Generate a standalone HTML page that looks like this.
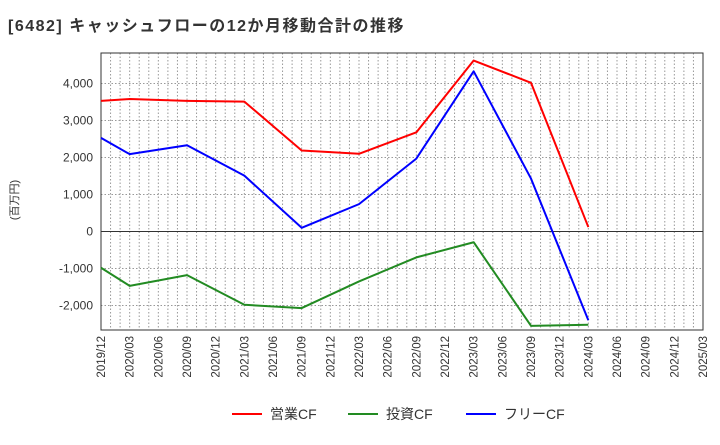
<!DOCTYPE html>
<html><head><meta charset="utf-8">
<style>
body{margin:0;background:#fff;}
svg text{font-family:"Liberation Sans","Noto Sans CJK JP",sans-serif;}
</style></head>
<body>
<svg id="chart" width="720" height="440" xmlns="http://www.w3.org/2000/svg">
<text x="8" y="31" font-size="16" font-weight="bold" fill="#333" letter-spacing="1.5">[6482]  キャッシュフローの12か月移動合計の推移</text>
<text x="18" y="200" font-size="11" fill="#333" text-anchor="middle" transform="rotate(-90 18 200)">(百万円)</text>
<g id="grid"></g>
<g id="axes"></g>
<g id="series"></g>
<g id="legend">
<line x1="232" y1="414" x2="262" y2="414" stroke="#f00" stroke-width="2"/>
<text x="270" y="419" font-size="14" fill="#333">営業CF</text>
<line x1="348" y1="414" x2="378" y2="414" stroke="#228b22" stroke-width="2"/>
<text x="386" y="419" font-size="14" fill="#333">投資CF</text>
<line x1="466" y1="414" x2="496" y2="414" stroke="#00f" stroke-width="2"/>
<text x="504" y="419" font-size="14" fill="#333">フリーCF</text>
</g>
</svg>
<script>
const categories=["2019/12","2020/03","2020/06","2020/09","2020/12","2021/03","2021/06","2021/09","2021/12","2022/03","2022/06","2022/09","2022/12","2023/03","2023/06","2023/09","2023/12","2024/03","2024/06","2024/09","2024/12","2025/03"];
const dataIdx=[0,1,3,5,7,9,11,13,15,17];
const operatingCF=[3530,3580,3530,3510,2190,2100,2680,4620,4020,120];
const investingCF=[-980,-1470,-1180,-1980,-2070,-1350,-700,-290,-2550,-2520];
const freeCF=[2530,2090,2330,1510,100,740,1970,4330,1430,-2400];
const yTicks=[-2000,-1000,0,1000,2000,3000,4000];
const yTickLabels=["-2,000","-1,000","0","1,000","2,000","3,000","4,000"];

const L=101,R=703,T=53,B=330;
const x=i=>L+(R-L)*i/(categories.length-1);
const y=v=>231.5-v*0.037;
const NS="http://www.w3.org/2000/svg";
function mk(p,tag,a){const e=document.createElementNS(NS,tag);for(const k in a)e.setAttribute(k,a[k]);p.appendChild(e);return e;}
const grid=document.getElementById('grid'),axes=document.getElementById('axes'),ser=document.getElementById('series');
for(let m=1;m<(categories.length-1)*3;m++){
  const xx=L+(R-L)*m/((categories.length-1)*3);
  const g=mk(grid,'line',{x1:xx,y1:T,x2:xx,y2:B,stroke:'#999','stroke-dasharray':'1.5,2','stroke-width':1});
  
  
}
yTicks.forEach((v,i)=>{
  const yy=y(v);
  const g=mk(grid,'line',{x1:L,y1:yy,x2:R,y2:yy,stroke:v===0?'#333':'#999','stroke-dasharray':v===0?'none':'1.5,2','stroke-width':1});
  
  
  const t=mk(axes,'text',{x:L-8,y:yy+4,'font-size':12,fill:'#333','text-anchor':'end'});
  t.textContent=yTickLabels[i];
  
  
});
const frame=mk(axes,'rect',{x:L,y:T,width:R-L,height:B-T,fill:'none',stroke:'#333','stroke-width':1});


categories.forEach((c,i)=>{
  const xx=x(i);
  const t=mk(axes,'text',{x:xx+4,y:B+6,'font-size':11.5,fill:'#333','text-anchor':'end',transform:`rotate(-90 ${xx+4} ${B+6})`});
  t.textContent=c;
  
  
});
function line(vals,color,name){
  const pts=vals.map((v,i)=>x(dataIdx[i])+','+y(v)).join(' ');
  const p=mk(ser,'polyline',{points:pts,fill:'none',stroke:color,'stroke-width':2,'stroke-linejoin':'round'});
  
  
}
line(operatingCF,'#f00','operating-cf-line');
line(investingCF,'#228b22','investing-cf-line');
line(freeCF,'#00f','free-cf-line');
</script>
</body></html>
